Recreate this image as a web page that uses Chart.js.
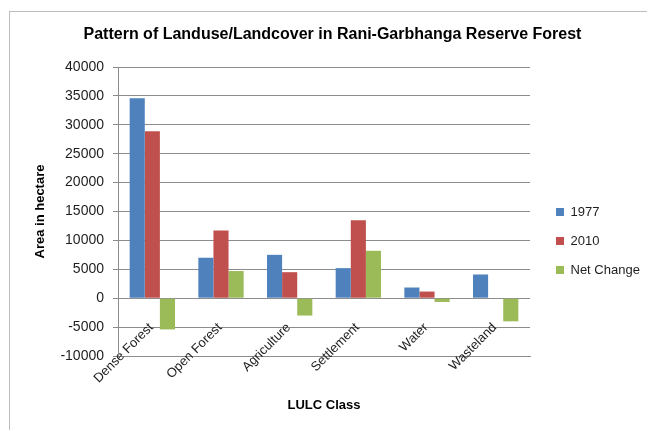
<!DOCTYPE html>
<html><head><meta charset="utf-8">
<script src="https://cdn.jsdelivr.net/npm/chart.js@4.4.1/dist/chart.umd.min.js"></script>
<style>
html,body{margin:0;padding:0;background:#fff;}
#wrap{position:relative;width:647px;height:430px;overflow:hidden;}
#frame{position:absolute;left:9px;top:11px;width:700px;height:500px;border-left:1px solid #bcbcbc;border-top:1px solid #bcbcbc;}
canvas{position:absolute;left:0;top:0;}
</style></head><body>
<div id="wrap"><div id="frame"></div><canvas id="c" width="647" height="430"></canvas></div>
<script>
const categories = ['Dense Forest', 'Open Forest', 'Agriculture', 'Settlement', 'Water', 'Wasteland'];
const values1977 = [34600, 7000, 7500, 5200, 1850, 4100];
const values2010 = [28900, 11700, 4500, 13500, 1150, 0];
const valuesNet = [-5400, 4700, -3000, 8200, -650, -4000];
const seriesNames = ['1977', '2010', 'Net Change'];
const yMin = -10000, yMax = 40000, yStep = 5000;

const sans = "'Liberation Sans', Arial, sans-serif";
const textColor = '#1e1e1e';
const gridColor = '#8c8c8c';

const placeBoxes = {
  id: 'placeBoxes',
  afterInit(chart) {
    const lg = chart.legend;
    const f = lg.fit.bind(lg);
    lg.fit = function () { f(); this.width = 117; };
  },
  afterLayout(chart) {
    const lg = chart.legend;
    const h = lg.height;
    lg.left = 540; lg.right = 540 + lg.width;
    lg.top = 189.5; lg.bottom = 189.5 + h;
    const t = chart.titleBlock;
    if (t) { t.left += 9; t.right += 9; }
  }
};

new Chart(document.getElementById('c'), {
  type: 'bar',
  data: {
    labels: categories,
    datasets: [
      { label: seriesNames[0], data: values1977, backgroundColor: '#4F81BD' },
      { label: seriesNames[1], data: values2010, backgroundColor: '#C0504D' },
      { label: seriesNames[2], data: valuesNet, backgroundColor: '#9BBB59' }
    ]
  },
  plugins: [placeBoxes],
  options: {
    responsive: false,
    animation: false,
    devicePixelRatio: 1,
    datasets: { bar: { categoryPercentage: 0.66, barPercentage: 1.0, borderWidth: 0 } },
    layout: { padding: 0 },
    plugins: {
      title: {
        display: true,
        text: 'Pattern of Landuse/Landcover in Rani-Garbhanga Reserve Forest',
        color: '#000',
        font: { family: sans, size: 16, weight: 'bold' },
        padding: { top: 25.4, bottom: 22.4 }
      },
      legend: {
        position: 'right',
        align: 'start',
        labels: {
          boxWidth: 8, boxHeight: 8, padding: 16,
          color: textColor,
          font: { family: sans, size: 13 }
        }
      },
      tooltip: { enabled: false }
    },
    scales: {
      x: {
        grid: { display: false },
        border: { display: true, color: gridColor },
        ticks: {
          color: textColor,
          font: { family: sans, size: 13 },
          maxRotation: 45, minRotation: 45,
          autoSkip: false,
          mirror: true,
          padding: 25,
          labelOffset: 10
        },
        title: {
          display: true, text: 'LULC Class', color: '#000',
          font: { family: sans, size: 13, weight: 'bold' },
          padding: { top: 0, bottom: 17.2 }
        },
        afterFit(s) { s.height = 74; }
      },
      y: {
        min: yMin, max: yMax,
        grid: { color: gridColor, tickLength: 5, drawTicks: true, tickColor: gridColor },
        border: { display: true, color: gridColor },
        ticks: {
          stepSize: yStep,
          color: textColor,
          font: { family: sans, size: 14 },
          padding: 9,
          callback: v => String(v)
        },
        title: {
          display: true, text: 'Area in hectare', color: '#000',
          font: { family: sans, size: 13, weight: 'bold' },
          padding: { top: 32.2, bottom: 0 }
        },
        afterFit(s) { s.width = 118; }
      }
    }
  }
});
</script>
</body></html>
